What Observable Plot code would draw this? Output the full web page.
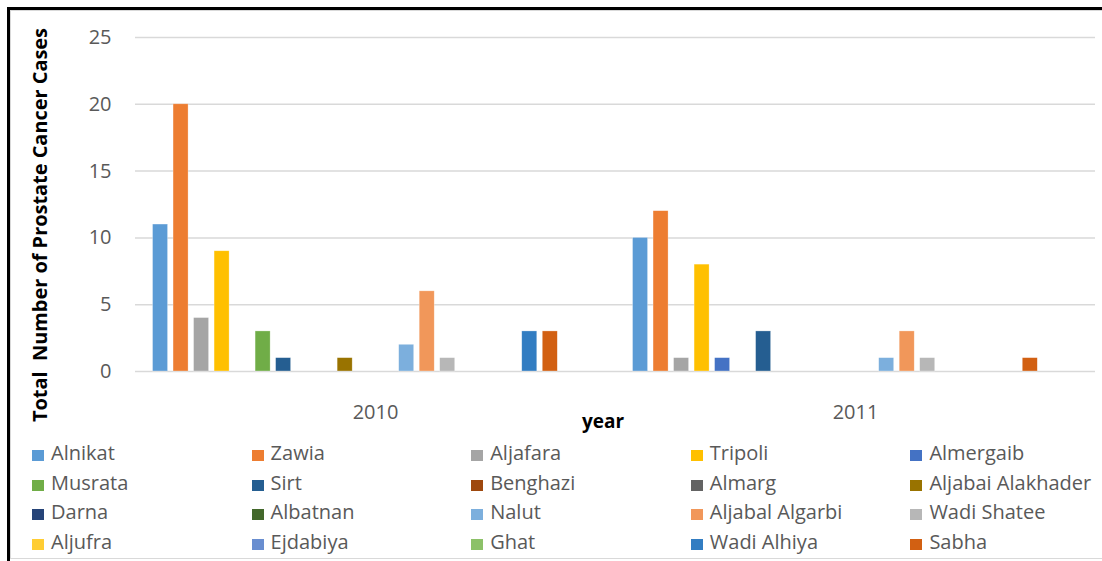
<!DOCTYPE html>
<html><head><meta charset="utf-8">
<script src="https://cdn.jsdelivr.net/npm/d3@7"></script>
<script src="https://cdn.jsdelivr.net/npm/@observablehq/plot@0.6"></script>
<style>
body{margin:0;background:#fff;}
#wrap{position:relative;width:1102px;height:561px;overflow:hidden;font-family:"Open Sans",sans-serif;background:#fff;}
#frameOuter{position:absolute;left:7px;top:7px;width:1120px;height:600px;border-left:3px solid #000;border-top:3px solid #000;}
#frameInner{position:absolute;left:10px;top:10px;width:1120px;height:547px;border-left:1px solid #d9d9d9;border-top:1px solid #d9d9d9;border-bottom:1px solid #d9d9d9;}
#chart{position:absolute;left:0;top:0;}
#legend{position:absolute;left:0;top:438px;width:1102px;height:123px;}
.item{position:absolute;height:30px;line-height:30px;font-size:20px;color:#595959;white-space:nowrap;}
.sw{display:inline-block;width:12px;height:11px;margin-right:7px;vertical-align:-1px;}
</style>
</head><body>
<div id="wrap">
  <div id="frameOuter"></div>
  <div id="frameInner"></div>
  <div id="chart"></div>
  <div id="legend"></div>
</div>
<script>
const regions = ["Alnikat","Zawia","Aljafara","Tripoli","Almergaib","Musrata","Sirt","Benghazi","Almarg","Aljabai Alakhader","Darna","Albatnan","Nalut","Aljabal Algarbi","Wadi Shatee","Aljufra","Ejdabiya","Ghat","Wadi Alhiya","Sabha"];
const years = ["2010","2011"];
const values2010 = [11,20,4,9,0,3,1,0,0,1,0,0,2,6,1,0,0,0,3,3];
const values2011 = [10,12,1,8,1,0,3,0,0,0,0,0,1,3,1,0,0,0,0,1];
const colors = ["#5B9BD5","#ED7D31","#A5A5A5","#FFC000","#4472C4","#70AD47","#255E91","#9E480E","#636363","#997300","#264478","#43682B","#7CAFDD","#F1975A","#B7B7B7","#FFCD33","#698ED0","#8CC168","#327DC2","#D26012"];
const yTicks = [0,5,10,15,20,25];

const seriesByYear = {"2010": values2010, "2011": values2011};
const data = [];
for (const yr of years) regions.forEach((r,i) => data.push({year: yr, region: r, value: seriesByYear[yr][i]}));

const W = 1102, H = 436;
const plot = Plot.plot({
  width: W, height: H,
  marginLeft: 135, marginRight: 7, marginTop: 37, marginBottom: 65,
  style: {fontFamily: "'Open Sans', sans-serif", fontSize: "20px", color: "#595959", background: "transparent", overflow: "visible"},
  fx: {domain: years, padding: 0, round: false, axis: "bottom", tickSize: 0, tickPadding: 33, label: null},
  x: {domain: regions, axis: null, round: false, paddingInner: 0.267, paddingOuter: 1.834, align: 0.233},
  y: {domain: [0, 25], ticks: yTicks, tickSize: 0, tickPadding: 24, label: null},
  color: {domain: regions, range: colors},
  marks: [
    Plot.ruleY(yTicks, {stroke: "#d9d9d9", strokeWidth: 1.5}),
    Plot.barY(data.filter(d => d.value > 0), {fx: "year", x: "region", y: "value", fill: "region", stroke: "#ffffff", strokeOpacity: 0.5, strokeWidth: 0.6})
  ]
});
document.getElementById("chart").appendChild(plot);

const svg = d3.select(plot);
svg.append("text")
  .attr("transform", "rotate(-90)")
  .attr("x", -225).attr("y", 47)
  .attr("text-anchor", "middle")
  .attr("font-family", "'Open Sans', sans-serif")
  .attr("font-size", 20).attr("font-weight", "bold").attr("fill", "#000")
  .attr("textLength", 394).attr("lengthAdjust", "spacingAndGlyphs")
  .text("Total  Number of Prostate Cancer Cases");
svg.append("text")
  .attr("x", 603).attr("y", 428)
  .attr("text-anchor", "middle")
  .attr("font-family", "'Open Sans', sans-serif")
  .attr("font-size", 19).attr("font-weight", "bold").attr("fill", "#000")
  .text("year");

const legend = document.getElementById("legend");
regions.forEach((r, i) => {
  const col = i % 5, row = Math.floor(i / 5);
  const div = document.createElement("div");
  div.className = "item";
  div.style.left = (32 + col * 219.6) + "px";
  div.style.top = (row * 29.5) + "px";
  div.innerHTML = `<span class="sw" style="background:${colors[i]}"></span>${r}`;
  legend.appendChild(div);
});
</script>
</body></html>
